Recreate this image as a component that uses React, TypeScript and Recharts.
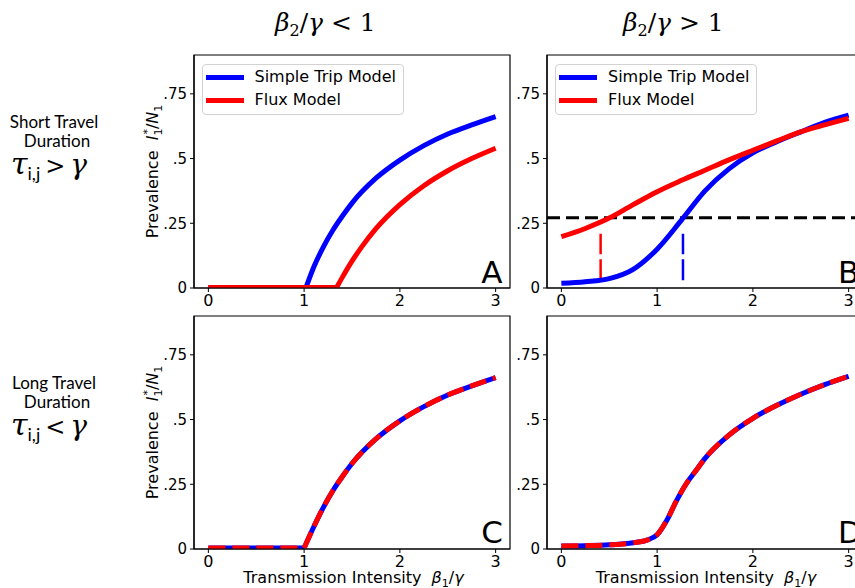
import React from "react";
import {
  LineChart,
  Line,
  XAxis,
  YAxis,
  ReferenceLine,
  ReferenceArea,
  Legend,
} from "recharts";

// axis setup shared by the four panels
const xTicks = [0, 1, 2, 3];
const yTicks = [0, 0.25, 0.5, 0.75];
const xDomain: [number, number] = [-0.15, 3.15];
const yDomain: [number, number] = [0, 0.9];

const legendNames = ["Simple Trip Model", "Flux Model"];

// panel A: beta2/gamma < 1, short travel
// (flat part and rising part kept apart so the corner stays sharp)
const aBlueFlatX = [0, 1.02];
const aBlueFlatY = [0.002, 0.002];
const aBlueX = [1.02, 1.1, 1.2, 1.3, 1.4, 1.5, 1.75, 2, 2.25, 2.5, 2.75, 3];
const aBlueY = [0.002, 0.08, 0.158, 0.223, 0.278, 0.328, 0.424, 0.494, 0.55, 0.595, 0.63, 0.662];
const aRedFlatX = [0, 1.34];
const aRedFlatY = [0.002, 0.002];
const aRedX = [1.34, 1.4, 1.5, 1.6, 1.75, 2, 2.25, 2.5, 2.75, 3];
const aRedY = [0.002, 0.042, 0.104, 0.158, 0.229, 0.322, 0.395, 0.453, 0.5, 0.54];

// panel B: beta2/gamma > 1, short travel
const bX = [0, 0.25, 0.5, 0.75, 1, 1.25, 1.5, 1.75, 2, 2.25, 2.5, 2.75, 3];
const bBlueY = [0.018, 0.024, 0.036, 0.072, 0.15, 0.26, 0.375, 0.46, 0.522, 0.565, 0.603, 0.64, 0.668];
const bRedY = [0.198, 0.23, 0.27, 0.322, 0.372, 0.415, 0.455, 0.495, 0.532, 0.568, 0.603, 0.63, 0.655];
const bThreshold = 0.271;
const bRedCross = 0.41;
const bBlueCross = 1.27;
const bGuideLow = 0.03;
const bGuideHigh = 0.21;

// panel C: beta2/gamma < 1, long travel (both models overlap)
const cFlatX = [0, 1];
const cFlatY = [0.004, 0.004];
const cX = [1, 1.1, 1.2, 1.3, 1.4, 1.5, 1.75, 2, 2.25, 2.5, 2.75, 3];
const cBlueY = [0.004, 0.085, 0.16, 0.225, 0.28, 0.33, 0.425, 0.495, 0.55, 0.595, 0.63, 0.662];
const cRedY = [0.004, 0.085, 0.16, 0.225, 0.28, 0.33, 0.425, 0.495, 0.55, 0.595, 0.63, 0.662];

// panel D: beta2/gamma > 1, long travel (both models overlap)
const dX = [0, 0.25, 0.5, 0.75, 0.9, 1, 1.1, 1.2, 1.3, 1.4, 1.5, 1.75, 2, 2.25, 2.5, 2.75, 3];
const dBlueY = [0.012, 0.013, 0.016, 0.024, 0.035, 0.055, 0.11, 0.185, 0.25, 0.3, 0.35, 0.44, 0.505, 0.555, 0.598, 0.635, 0.667];
const dRedY = [0.012, 0.013, 0.016, 0.024, 0.035, 0.055, 0.11, 0.185, 0.25, 0.3, 0.35, 0.44, 0.505, 0.555, 0.598, 0.635, 0.667];

const BLUE = "#0000ff";
const RED = "#ff0000";
const FONT = "DejaVu Sans";
const LABEL_FONT = "Lato";

const toPoints = (xs: number[], ys: number[]) => xs.map((x, i) => ({ x, y: ys[i] }));

type SeriesDef = {
  id: string;
  data: { x: number; y: number }[];
  color: string;
  dash?: string;
  flat?: boolean;
};

const PLOT_W = 316;
const PLOT_H = 233;
const AXIS_W = 50;
const TOP_PAD = 10;
const RIGHT_PAD = 10;
const XAXIS_H = 40;

const renderLegend = () => (
  <div
    style={{
      width: 202,
      height: 51,
      boxSizing: "border-box",
      border: "1px solid #d2d2d2",
      borderRadius: 4,
      background: "rgba(255,255,255,0.85)",
      position: "relative",
      fontFamily: FONT,
      fontSize: 16,
      color: "#000",
    }}
  >
    {legendNames.map((name, i) => (
      <div
        key={name}
        style={{
          position: "absolute",
          left: 3,
          top: 5 + i * 23.3,
          height: 14,
          display: "flex",
          alignItems: "center",
          whiteSpace: "nowrap",
        }}
      >
        <span
          style={{
            display: "inline-block",
            width: 38,
            height: 5,
            background: i === 0 ? BLUE : RED,
          }}
        />
        <span style={{ marginLeft: 11, lineHeight: "14px" }}>{name}</span>
      </div>
    ))}
  </div>
);

const yTickFormat = (v: number) => (v === 0 ? "0" : String(v).replace(/^0/, ""));

function Panel({
  plotLeft,
  plotTop,
  series,
  legend,
  children,
}: {
  plotLeft: number;
  plotTop: number;
  series: SeriesDef[];
  legend?: boolean;
  children?: React.ReactNode;
}) {
  return (
    <div style={{ position: "absolute", left: plotLeft - AXIS_W, top: plotTop - TOP_PAD }}>
      <LineChart
        width={AXIS_W + PLOT_W + RIGHT_PAD}
        height={TOP_PAD + PLOT_H + XAXIS_H}
        margin={{ top: TOP_PAD, right: RIGHT_PAD, bottom: 0, left: 0 }}
      >
        <XAxis
          type="number"
          dataKey="x"
          domain={xDomain}
          ticks={xTicks}
          height={XAXIS_H}
          tickSize={4}
          tickMargin={3}
          axisLine={{ stroke: "#000", strokeWidth: 1.2 }}
          tickLine={{ stroke: "#000" }}
          tick={{ fill: "#000", fontSize: 16, fontFamily: FONT }}
        />
        <YAxis
          type="number"
          domain={yDomain}
          ticks={yTicks}
          width={AXIS_W}
          allowDataOverflow
          tickSize={4}
          tickMargin={3}
          tickFormatter={yTickFormat}
          axisLine={{ stroke: "#000", strokeWidth: 1.2 }}
          tickLine={{ stroke: "#000" }}
          tick={{ fill: "#000", fontSize: 15, fontFamily: FONT }}
        />
        <ReferenceArea
          x1={xDomain[0]}
          x2={xDomain[1]}
          y1={yDomain[0]}
          y2={yDomain[1]}
          fill="none"
          fillOpacity={0}
          stroke="#000"
          strokeWidth={1.2}
        />
        {children}
        {series.map((s) => (
          <Line
            key={s.id}
            name={s.id}
            data={s.data}
            dataKey="y"
            type={s.flat ? "linear" : "monotone"}
            stroke={s.color}
            strokeWidth={5}
            strokeDasharray={s.dash}
            dot={false}
            activeDot={false}
            isAnimationActive={false}
          />
        ))}
        {legend && (
          <Legend
            layout="vertical"
            align="center"
            verticalAlign="middle"
            content={renderLegend}
            wrapperStyle={{ left: AXIS_W + 8, top: TOP_PAD + 9, width: 202, height: 51 }}
          />
        )}
      </LineChart>
    </div>
  );
}

const LEFT_COL = 193.5;
const RIGHT_COL = 547;
const TOP_ROW = 55;
const BOTTOM_ROW = 316;

function RowLabel({ y, first, rel }: { y: number; first: string; rel: string }) {
  return (
    <g>
      <text x={54} y={y} textAnchor="middle" fontFamily={LABEL_FONT} fontSize={17}>
        {first}
      </text>
      <text x={57} y={y + 19} textAnchor="middle" fontFamily={LABEL_FONT} fontSize={17}>
        Duration
      </text>
      <text x={49} y={y + 46.5} textAnchor="middle">
        <tspan fontFamily="DejaVu Serif" fontStyle="italic" fontSize={30}>
          τ
        </tspan>
        <tspan fontFamily={LABEL_FONT} fontSize={18} dy={6}>
          i,j
        </tspan>
        <tspan fontFamily="DejaVu Serif" fontSize={24} dy={-6} dx={5}>
          {rel}
        </tspan>
        <tspan fontFamily="DejaVu Serif" fontStyle="italic" fontSize={28} dx={5}>
          γ
        </tspan>
      </text>
    </g>
  );
}

function Title({ x, rel }: { x: number; rel: string }) {
  return (
    <text x={x} y={31} fontFamily="DejaVu Serif" fontSize={25}>
      <tspan fontStyle="italic">β</tspan>
      <tspan fontSize={16} dy={5}>
        2
      </tspan>
      <tspan dy={-5}>/</tspan>
      <tspan fontStyle="italic">γ</tspan>
      <tspan>{` ${rel} 1`}</tspan>
    </text>
  );
}

function YLabel({ cy }: { cy: number }) {
  return (
    <text
      transform={`translate(158, ${cy}) rotate(-90)`}
      textAnchor="middle"
      fontFamily={FONT}
      fontSize={16}
    >
      {"Prevalence\u00a0\u00a0"}
      <tspan fontStyle="italic">I</tspan>
      <tspan fontSize={11} dy={4}>
        1
      </tspan>
      <tspan fontSize={11} dx={-6} dy={-11}>
        *
      </tspan>
      <tspan dy={7}>/</tspan>
      <tspan fontStyle="italic">N</tspan>
      <tspan fontSize={11} dy={4}>
        1
      </tspan>
    </text>
  );
}

function XLabel({ cx }: { cx: number }) {
  return (
    <text x={cx} y={583} textAnchor="middle" fontFamily={FONT} fontSize={16}>
      {"Transmission Intensity\u00a0\u00a0"}
      <tspan fontStyle="italic">β</tspan>
      <tspan fontSize={11} dy={4}>
        1
      </tspan>
      <tspan dy={-4}>/</tspan>
      <tspan fontStyle="italic">γ</tspan>
    </text>
  );
}

function Letter({ x, y, ch, anchor }: { x: number; y: number; ch: string; anchor: "start" | "end" }) {
  return (
    <text x={x} y={y} textAnchor={anchor} fontFamily={FONT} fontSize={31}>
      {ch}
    </text>
  );
}

export default function App() {
  const seriesA: SeriesDef[] = [
    { id: "aBlueFlat", data: toPoints(aBlueFlatX, aBlueFlatY), color: BLUE, flat: true },
    { id: "aBlue", data: toPoints(aBlueX, aBlueY), color: BLUE },
    { id: "aRedFlat", data: toPoints(aRedFlatX, aRedFlatY), color: RED, flat: true },
    { id: "aRed", data: toPoints(aRedX, aRedY), color: RED },
  ];
  const seriesB: SeriesDef[] = [
    { id: "bBlue", data: toPoints(bX, bBlueY), color: BLUE },
    { id: "bRed", data: toPoints(bX, bRedY), color: RED },
  ];
  const seriesC: SeriesDef[] = [
    { id: "cBlueFlat", data: toPoints(cFlatX, cFlatY), color: BLUE, flat: true },
    { id: "cBlue", data: toPoints(cX, cBlueY), color: BLUE },
    { id: "cRedFlat", data: toPoints(cFlatX, cFlatY), color: RED, dash: "17 7", flat: true },
    { id: "cRed", data: toPoints(cX, cRedY), color: RED, dash: "17 7" },
  ];
  const seriesD: SeriesDef[] = [
    { id: "dBlue", data: toPoints(dX, dBlueY), color: BLUE },
    { id: "dRed", data: toPoints(dX, dRedY), color: RED, dash: "17 7" },
  ];

  return (
    <div
      style={{
        position: "absolute",
        left: 0,
        top: 0,
        width: 855,
        height: 588,
        overflow: "hidden",
        background: "#fff",
      }}
    >
      <Panel plotLeft={LEFT_COL} plotTop={TOP_ROW} series={seriesA} legend />
      <Panel plotLeft={RIGHT_COL} plotTop={TOP_ROW} series={seriesB} legend>
        <ReferenceLine y={bThreshold} stroke="#000" strokeWidth={3} strokeDasharray="13 6" />
        <ReferenceLine
          segment={[
            { x: bRedCross, y: bGuideLow },
            { x: bRedCross, y: bGuideHigh },
          ]}
          stroke={RED}
          strokeWidth={2.5}
          strokeDasharray="21 5"
        />
        <ReferenceLine
          segment={[
            { x: bBlueCross, y: bGuideLow },
            { x: bBlueCross, y: bGuideHigh },
          ]}
          stroke={BLUE}
          strokeWidth={2.5}
          strokeDasharray="21 5"
        />
      </Panel>
      <Panel plotLeft={LEFT_COL} plotTop={BOTTOM_ROW} series={seriesC} />
      <Panel plotLeft={RIGHT_COL} plotTop={BOTTOM_ROW} series={seriesD} />

      <svg
        width={855}
        height={588}
        style={{ position: "absolute", left: 0, top: 0, pointerEvents: "none" }}
      >
        <Title x={275} rel="<" />
        <Title x={623} rel=">" />
        <RowLabel y={127.5} first="Short Travel" rel=">" />
        <RowLabel y={388.5} first="Long Travel" rel="<" />
        <YLabel cy={TOP_ROW + PLOT_H / 2} />
        <YLabel cy={BOTTOM_ROW + PLOT_H / 2} />
        <XLabel cx={353.5} />
        <XLabel cx={706} />
        <Letter x={502.5} y={283} ch="A" anchor="end" />
        <Letter x={838} y={283} ch="B" anchor="start" />
        <Letter x={503} y={543} ch="C" anchor="end" />
        <Letter x={838} y={543} ch="D" anchor="start" />
      </svg>
    </div>
  );
}
